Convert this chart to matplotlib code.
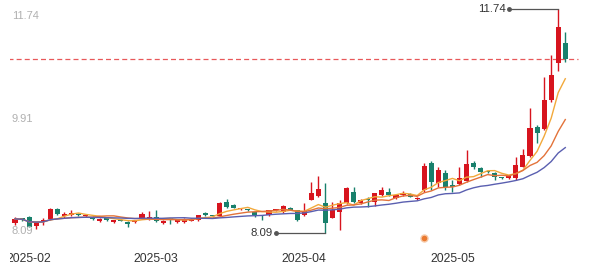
import numpy as np
import pandas as pd
import matplotlib
matplotlib.use("Agg")
import matplotlib.pyplot as plt
from matplotlib.patches import Rectangle
from matplotlib.transforms import blended_transform_factory

plt.rcParams['font.family'] = ['Liberation Sans', 'DejaVu Sans']

# ---- data ----
trade_days = pd.bdate_range('2025-01-24', '2025-05-28')
closed_days = pd.to_datetime(['2025-01-28', '2025-01-29', '2025-01-30', '2025-01-31',
                              '2025-02-03', '2025-02-04', '2025-04-04',
                              '2025-05-01', '2025-05-02', '2025-05-05'])
dates = trade_days.difference(closed_days)

opens = [8.25, 8.32, 8.35, 8.20, 8.28, 8.32, 8.48, 8.37, 8.38, 8.39,
         8.365, 8.35, 8.29, 8.32, 8.27, 8.31, 8.27, 8.27, 8.34, 8.32,
         8.35, 8.25, 8.32, 8.27, 8.27, 8.29, 8.30, 8.42, 8.37, 8.37,
         8.60, 8.55, 8.475, 8.47, 8.43, 8.37, 8.38, 8.46, 8.43, 8.50,
         8.465, 8.38, 8.63, 8.69, 8.58, 8.335, 8.43, 8.58, 8.76, 8.58,
         8.63, 8.595, 8.71, 8.76, 8.66, 8.71, 8.73, 8.645, 8.79, 9.23,
         8.905, 9.07, 8.87, 8.89, 8.94, 9.23, 9.15, 9.09, 9.07, 9.00,
         8.985, 8.985, 9.165, 9.345, 9.82, 9.785, 10.26, 10.86, 11.19]
highs = [8.35, 8.34, 8.37, 8.26, 8.33, 8.50, 8.50, 8.43, 8.47, 8.41,
         8.39, 8.36, 8.33, 8.35, 8.31, 8.32, 8.28, 8.31, 8.43, 8.45,
         8.46, 8.30, 8.33, 8.31, 8.33, 8.33, 8.39, 8.43, 8.38, 8.60,
         8.64, 8.56, 8.50, 8.48, 8.44, 8.38, 8.47, 8.48, 8.55, 8.51,
         8.47, 8.58, 8.92, 9.02, 8.905, 8.595, 8.63, 8.84, 8.84, 8.64,
         8.68, 8.75, 8.84, 8.82, 8.73, 8.77, 8.75, 8.68, 9.23, 9.26,
         9.165, 9.12, 8.95, 9.165, 9.44, 9.26, 9.16, 9.10, 9.08, 9.01,
         9.03, 9.33, 9.46, 10.13, 9.85, 10.63, 10.99, 11.74, 11.365]
lows = [8.22, 8.29, 8.18, 8.16, 8.22, 8.31, 8.38, 8.34, 8.37, 8.36,
        8.35, 8.31, 8.27, 8.29, 8.26, 8.28, 8.19, 8.26, 8.33, 8.31,
        8.27, 8.23, 8.24, 8.26, 8.26, 8.28, 8.29, 8.37, 8.35, 8.36,
        8.50, 8.49, 8.47, 8.45, 8.35, 8.30, 8.36, 8.45, 8.42, 8.46,
        8.29, 8.37, 8.62, 8.68, 8.09, 8.33, 8.14, 8.57, 8.58, 8.57,
        8.51, 8.53, 8.70, 8.70, 8.65, 8.70, 8.67, 8.63, 8.76, 8.79,
        8.84, 8.79, 8.76, 8.87, 8.92, 9.13, 9.00, 9.06, 8.95, 8.97,
        8.97, 8.95, 9.16, 9.33, 9.555, 9.77, 10.225, 10.73, 10.88]
closes = [8.32, 8.31, 8.19, 8.25, 8.29, 8.48, 8.40, 8.40, 8.42, 8.38,
          8.37, 8.32, 8.32, 8.31, 8.30, 8.29, 8.24, 8.30, 8.40, 8.35,
          8.29, 8.29, 8.31, 8.30, 8.32, 8.32, 8.38, 8.38, 8.365, 8.58,
          8.51, 8.50, 8.485, 8.465, 8.38, 8.365, 8.465, 8.47, 8.53, 8.47,
          8.30, 8.45, 8.74, 8.81, 8.25, 8.465, 8.58, 8.82, 8.595, 8.63,
          8.62, 8.74, 8.79, 8.71, 8.71, 8.74, 8.68, 8.66, 9.18, 8.92,
          9.12, 8.84, 8.84, 8.99, 9.21, 9.165, 9.08, 9.08, 9.00, 8.99,
          9.02, 9.20, 9.36, 9.80, 9.72, 10.26, 10.665, 11.45, 10.925]

axis_labels = ['11.74', '9.91', '8.09']
ma_windows = [5, 10, 20]
event_index = 58

# ---- style ----
RED = '#d7141e'
GREEN = '#18806c'
MA_COLORS = ['#f2a93b', '#e3733a', '#5a5fb0']

fig = plt.figure(figsize=(5.89, 2.75), dpi=100)
ax = fig.add_axes([10 / 589, 0, 579 / 589, 1])
ax.set_axis_off()

n = len(closes)
idx = np.arange(n)
px = 7.055  # pixels per candle
ax.set_xlim(-5 / px, 574 / px)
ax.set_ylim(7.406, 11.887)

ppx = (11.887 - 7.406) / 275.0  # price per pixel
close_s = pd.Series(closes)
for w, c in zip(ma_windows, MA_COLORS):
    ma = close_s.rolling(w, min_periods=1).mean()
    ax.plot(idx, ma, color=c, lw=1.0, zorder=3)

for i in range(n):
    o, h, l, c = opens[i], highs[i], lows[i], closes[i]
    col = RED if c >= o else GREEN
    ax.vlines(i, l, h, color=col, lw=1.0, zorder=2)
    bottom = min(o, c)
    height = max(abs(c - o), ppx * 1.2)
    ax.add_patch(Rectangle((i - 0.36, bottom), 0.72, height, facecolor=col,
                           edgecolor='none', zorder=2.5))

# last close dashed line
ax.plot([-1, 79.8], [closes[-1], closes[-1]], color='#e8585a', ls=(0, (4, 2.5)),
        lw=0.9, zorder=1)

# max / min annotations
imax = int(np.argmax(highs))
imin = int(np.argmin(lows))
for ii, val, lab in [(imax, highs[imax], f'{highs[imax]:.2f}'), (imin, lows[imin], f'{lows[imin]:.2f}')]:
    ax.plot([ii - 7.0, ii], [val, val], color='#555555', lw=0.9, zorder=4)
    ax.plot([ii - 7.0], [val], marker='o', ms=2.5, color='#555555', zorder=4)
    ax.text(ii - 7.4, val, lab, ha='right', va='center', fontsize=8.2, color='#333333', zorder=5)

# left value labels
trans = blended_transform_factory(ax.transData, ax.transAxes)
ylab_y = [1 - 16 / 275, 1 - 119 / 275, 1 - 231 / 275]
for lab, yy in zip(axis_labels, ylab_y):
    ax.text(ax.get_xlim()[0] + 2 / px, yy, lab, transform=trans, ha='left', va='center',
            fontsize=8.0, color='#b0b0b0', zorder=6)

# month labels
months = pd.Series(dates.strftime('%Y-%m'))
first_idx = months.drop_duplicates().index
for j in first_idx:
    if dates[j].month == 1:
        continue
    t = ax.text(j, 1 - 258.5 / 275, months[j], transform=trans, ha='center', va='center',
                fontsize=8.8, color='#333333')
    t.set_clip_on(True)
    t.set_clip_box(ax.bbox)

# event marker
ax.plot([event_index], [1 - 238 / 275], transform=trans, marker='o', ms=5,
        color='#ea7a30', markeredgecolor='#f6c8a6', markeredgewidth=1.0, zorder=5)

fig.savefig('out.png', dpi=100)
